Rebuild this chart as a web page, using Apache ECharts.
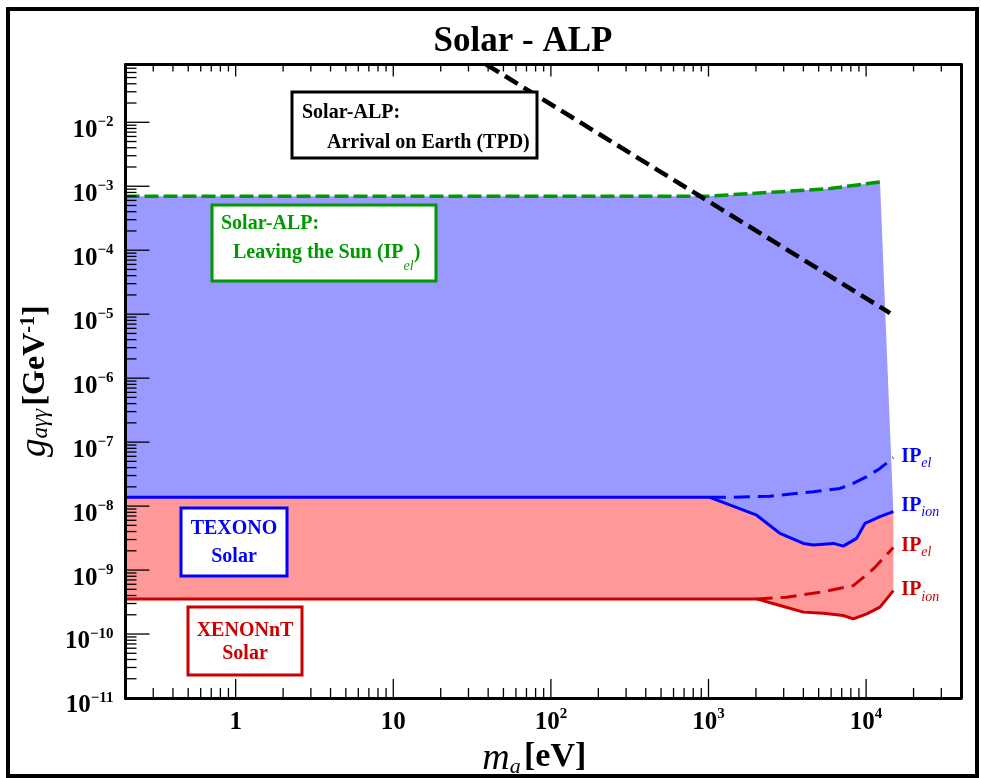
<!DOCTYPE html>
<html>
<head>
<meta charset="utf-8">
<script src="https://cdn.jsdelivr.net/npm/echarts@6/dist/echarts.min.js"></script>
<style>html,body{margin:0;padding:0;background:#fff;}#c{width:981px;height:778px;}</style>
</head>
<body>
<div id="c"></div>
<script>
// ---- data ----
const X_MIN = 0.2, X_MAX = 4e4;
const Y_MIN = 1e-11, Y_MAX = 0.08;

// Solar-ALP leaving the Sun (IP_el)  [m_a eV, g GeV^-1]
const leavingSun = [[0.2,7e-4],[1000,7e-4],[2850,8.2e-4],[5900,9.2e-4],[12250,1.17e-3]];
// Solar-ALP arrival on Earth (TPD)
const arrivalEarth = [[38.9,0.08],[1000,5.8e-4],[14190,1.04e-5]];
// TEXONO solar
const texonoIon = [[0.2,1.37e-8],[1020,1.37e-8],[2020,7.2e-9],[2840,3.75e-9],[4000,2.61e-9],[4630,2.46e-9],[6200,2.61e-9],[7160,2.37e-9],[8710,3.13e-9],[9840,5.37e-9],[12250,6.83e-9],[14890,8.17e-9]];
const texonoEl = [[1020,1.37e-8],[1440,1.37e-8],[2460,1.43e-8],[4630,1.68e-8],[6830,1.89e-8],[8290,2.26e-8],[10090,2.88e-8],[12250,3.88e-8],[14890,5.7e-8]];
// XENONnT solar
const xenonIon = [[0.2,3.54e-10],[2020,3.54e-10],[2840,2.79e-10],[4000,2.2e-10],[5350,2.12e-10],[7160,1.95e-10],[8290,1.73e-10],[10090,2.07e-10],[12250,2.63e-10],[14890,4.77e-10]];
const xenonEl = [[2020,3.54e-10],[3135,3.76e-10],[5100,4.5e-10],[8290,5.7e-10],[11120,1.04e-9],[14890,2.25e-9]];

const xTickExp = [-1,0,1,2,3,4];
const yTickExp = [-11,-10,-9,-8,-7,-6,-5,-4,-3,-2];

// ---- style ----
const F = "'Liberation Serif','Times New Roman',serif";
const BLUE = '#0000ff', RED = '#cc0000', GREEN = '#009a00';

const bluePoly = leavingSun.concat(texonoIon.slice().reverse());
const redPoly = texonoIon.concat(xenonIon.slice().reverse());

const ticks = [];
xTickExp.forEach(k => { for (let m = 1; m <= 9; m++) { const v = m * Math.pow(10, k); if (v > X_MIN * 1.0001 && v < X_MAX * 0.9999) ticks.push([v, Y_MIN, m === 1 ? 0 : 1]); } });
yTickExp.forEach(k => { for (let m = 1; m <= 9; m++) { const v = m * Math.pow(10, k); if (v > Y_MIN * 1.0001 && v < Y_MAX * 0.9999) ticks.push([X_MIN, v, m === 1 ? 2 : 3]); } });

function isPow10(v){ const e = Math.log10(v); return Math.abs(e - Math.round(e)) < 1e-6; }
function yFmt(v){ if(!isPow10(v)) return ''; const e = Math.round(Math.log10(v)); return '{b|10}{s|' + (e<0?'\u2212':'') + Math.abs(e) + '}'; }
function xFmt(v){ if(!isPow10(v)) return ''; const e = Math.round(Math.log10(v)); if(e===0) return '{b|1}'; if(e===1) return '{b|10}'; return '{b|10}{s|' + e + '}'; }

const tickRich = {
  b: {fontFamily: F, fontWeight: 'bold', fontSize: 25, lineHeight: 28, verticalAlign: 'bottom', color: '#000'},
  s: {fontFamily: F, fontWeight: 'bold', fontSize: 15, lineHeight: 14, verticalAlign: 'top', color: '#000'}
};

function polyRender(points){
  return function(params, api){
    if (params.dataIndex !== 0) return null;
    const pts = points.map(p => api.coord(p));
    return {type: 'polygon', shape: {points: pts}, style: {fill: api.visual('color')}};
  };
}

function ipLabel(sub, color, dy){
  return {show: true, formatter: '{m|IP}{s|' + sub + '}', distance: 8, offset: [0, dy],
    rich: {
      m: {fontFamily: F, fontWeight: 'bold', fontSize: 20, lineHeight: 24, verticalAlign: 'top', color: color},
      s: {fontFamily: F, fontStyle: 'italic', fontSize: 14, lineHeight: 24, verticalAlign: 'bottom', color: color}
    }};
}

function lineSeries(name, data, color, width, dash, label){
  const s = {name, type: 'line', data, showSymbol: false, symbol: 'none', clip: true, z: 4,
    lineStyle: {color, width, type: dash || 'solid', cap: 'butt'}, itemStyle: {color}};
  if (label) s.endLabel = label;
  return s;
}

const chart = echarts.init(document.getElementById('c'), null, {renderer: 'canvas'});

const boxText = (t, x, y, color, align) => ({type: 'text', z: 101, x, y,
  style: {text: t, fill: color, font: 'bold 20px ' + F, align: align || 'left', verticalAlign: 'middle'}});
const boxRect = (x, y, w, h, color) => ({type: 'rect', z: 100, shape: {x, y, width: w, height: h},
  style: {fill: '#fff', stroke: color, lineWidth: 3}});

chart.setOption({
  animation: false,
  backgroundColor: '#fff',
  grid: {left: 125.5, right: 20, top: 64.5, bottom: 80, containLabel: false, outerBoundsMode: 'none'},
  xAxis: [
    {type: 'log', min: X_MIN, max: X_MAX, position: 'bottom', z: 5,
     axisLine: {show: true, onZero: false, lineStyle: {color: '#000', width: 3}},
     axisTick: {show: false}, splitLine: {show: false},
     axisLabel: {formatter: xFmt, margin: 9, rich: tickRich, showMinLabel: false, showMaxLabel: false},
     name: '{m|m}{sub|a} {b|[eV]}', nameLocation: 'middle', nameGap: 39,
     nameTextStyle: {padding: [0, 18, 0, 0], rich: {
       m: {fontFamily: F, fontStyle: 'italic', fontSize: 38, lineHeight: 36, verticalAlign: 'top', color: '#000'},
       sub: {fontFamily: F, fontStyle: 'italic', fontSize: 22, lineHeight: 38, verticalAlign: 'bottom', color: '#000'},
       b: {fontFamily: F, fontWeight: 'bold', fontSize: 34, lineHeight: 36, verticalAlign: 'top', color: '#000'}
     }}},
    {type: 'log', min: X_MIN, max: X_MAX, position: 'top', z: 5,
     axisLine: {show: true, onZero: false, lineStyle: {color: '#000', width: 3}},
     axisTick: {show: false}, axisLabel: {show: false}, splitLine: {show: false}}
  ],
  yAxis: [
    {type: 'log', min: Y_MIN, max: Y_MAX, position: 'left', z: 5,
     axisLine: {show: true, onZero: false, lineStyle: {color: '#000', width: 3}},
     axisTick: {show: false}, splitLine: {show: false},
     axisLabel: {formatter: yFmt, margin: 12, rich: tickRich, padding: [13, 0, 0, 0]},
     name: '{g|g}{sub|a\u03b3\u03b3} {b|[GeV}{sup|-1}{b|]}', nameLocation: 'middle', nameGap: 62, nameRotate: 90,
     nameTextStyle: {rich: {
       g: {fontFamily: F, fontStyle: 'italic', fontSize: 37, lineHeight: 34, verticalAlign: 'middle', color: '#000'},
       sub: {fontFamily: F, fontStyle: 'italic', fontSize: 23, lineHeight: 30, verticalAlign: 'bottom', color: '#000'},
       b: {fontFamily: F, fontWeight: 'bold', fontSize: 32, lineHeight: 34, verticalAlign: 'middle', color: '#000'},
       sup: {fontFamily: F, fontWeight: 'bold', fontSize: 20, lineHeight: 16, verticalAlign: 'top', color: '#000'}
     }}},
    {type: 'log', min: Y_MIN, max: Y_MAX, position: 'right', z: 5,
     axisLine: {show: true, onZero: false, lineStyle: {color: '#000', width: 3}},
     axisTick: {show: false}, axisLabel: {show: false}, splitLine: {show: false}}
  ],
  series: [
    {name: 'IP_el region', type: 'custom', z: 1, clip: true, data: bluePoly, itemStyle: {color: '#9999ff'}, renderItem: polyRender(bluePoly), silent: true},
    {name: 'TEXONO region', type: 'custom', z: 1, clip: true, data: redPoly, itemStyle: {color: '#ff9999'}, renderItem: polyRender(redPoly), silent: true},
    lineSeries('Leaving the Sun', leavingSun, GREEN, 3.5, [14, 5]),
    lineSeries('Arrival on Earth', arrivalEarth, '#000', 4.5, [15, 7]),
    lineSeries('TEXONO IP_ion', texonoIon, BLUE, 3, 'solid', ipLabel('ion', BLUE, -4)),
    lineSeries('TEXONO IP_el', texonoEl, BLUE, 3, [16, 8], ipLabel('el', BLUE, 1)),
    lineSeries('XENONnT IP_ion', xenonIon, RED, 3, 'solid', ipLabel('ion', RED, 1.5)),
    lineSeries('XENONnT IP_el', xenonEl, RED, 3, [16, 8], ipLabel('el', RED, 0)),
    {name: 'ticks', type: 'custom', z: 6, clip: false, silent: true, data: ticks,
     renderItem: function(params, api){
       const kind = api.value(2);
       const st = {stroke: '#000', lineWidth: 1.3};
       if (kind < 2) {
         const pb = api.coord([api.value(0), Y_MIN]);
         const pt = api.coord([api.value(0), Y_MAX]);
         const lb = kind === 0 ? 19 : 10, lt = kind === 0 ? 12 : 7;
         return {type: 'group', children: [
           {type: 'line', shape: {x1: pb[0], y1: pb[1], x2: pb[0], y2: pb[1] - lb}, style: st},
           {type: 'line', shape: {x1: pt[0], y1: pt[1], x2: pt[0], y2: pt[1] + lt}, style: st}]};
       }
       const p = api.coord([X_MIN, api.value(1)]);
       const l = kind === 2 ? 24 : 11;
       return {type: 'line', shape: {x1: p[0], y1: p[1], x2: p[0] + l, y2: p[1]}, style: st};
     }}
  ],
  graphic: [
    {type: 'rect', z: 100, shape: {x: 8, y: 9, width: 969, height: 767}, style: {fill: 'none', stroke: '#000', lineWidth: 4}},
    {type: 'text', z: 101, x: 523, y: 42, style: {text: 'Solar - ALP', fill: '#000', font: 'bold 35px ' + F, align: 'center', verticalAlign: 'middle'}},
    boxRect(292, 92, 245, 66, '#000'),
    boxText('Solar-ALP:', 302, 113, '#000'),
    boxText('Arrival on Earth (TPD)', 327, 142.5, '#000'),
    boxRect(212, 205, 224, 76, GREEN),
    boxText('Solar-ALP:', 221, 224, GREEN),
    {type: 'text', z: 101, x: 233, y: 258, style: {text: '{a|Leaving the Sun (IP}{s|el}{a|)}', verticalAlign: 'middle', align: 'left',
      rich: {a: {fontFamily: F, fontWeight: 'bold', fontSize: 20, lineHeight: 24, verticalAlign: 'top', fill: GREEN, color: GREEN},
             s: {fontFamily: F, fontStyle: 'italic', fontSize: 14, lineHeight: 30, verticalAlign: 'bottom', fill: GREEN, color: GREEN}}}},
    boxRect(181, 508, 106, 68, BLUE),
    boxText('TEXONO', 234, 529, BLUE, 'center'),
    boxText('Solar', 234, 556.5, BLUE, 'center'),
    boxRect(188, 607, 114, 68, RED),
    boxText('XENONnT', 245, 631, RED, 'center'),
    boxText('Solar', 245, 654, RED, 'center')
  ]
});
</script>
</body>
</html>
